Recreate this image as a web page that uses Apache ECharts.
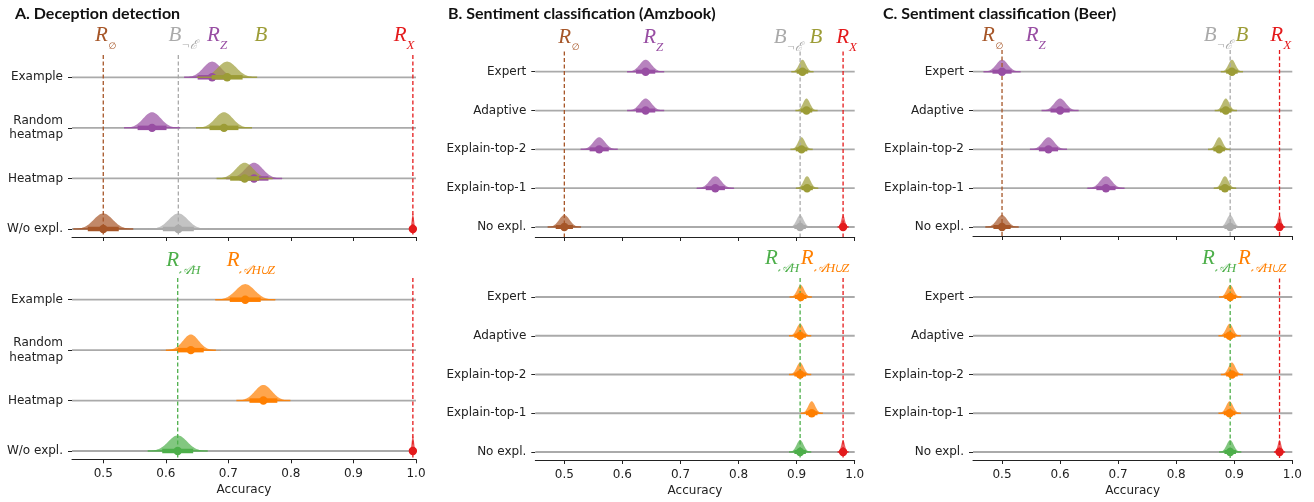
<!DOCTYPE html>
<html><head><meta charset="utf-8">
<script src="https://cdn.jsdelivr.net/npm/echarts@6/dist/echarts.min.js"></script>
<style>html,body{margin:0;padding:0;background:#fff}#c{width:1314px;height:502px}</style>
</head><body><div id="c"></div>
<script>
// ================= DATA =================
const rowsA = ['Example', 'Random\nheatmap', 'Heatmap', 'W/o expl.'];
const rowsBC = ['Expert', 'Adaptive', 'Explain-top-2', 'Explain-top-1', 'No expl.'];
const xTicks = [0.5, 0.6, 0.7, 0.8, 0.9, 1.0];
const titles = ['A. Deception detection', 'B. Sentiment classification (Amzbook)', 'C. Sentiment classification (Beer)'];

// Each entry per row: [mean accuracy, spread (sd)] or null when absent
// Panel A, top
const A1_R0  = [null, null, null, [0.500, 0.015]];
const A1_Bne = [null, null, null, [0.620, 0.015]];
const A1_RZ  = [[0.674, 0.014], [0.578, 0.014], [0.741, 0.014], null];
const A1_B   = [[0.698, 0.015], [0.693, 0.014], [0.726, 0.014], null];
const A1_RX  = [null, null, null, [0.995, 0.0018]];
const A1_labels = [['R0', 0.504], ['Bne', 0.628], ['RZ', 0.682], ['B', 0.752], ['RX', 0.981]];
// Panel A, bottom
const A2_RAH  = [null, null, null, [0.619, 0.015]];
const A2_RAHZ = [[0.727, 0.015], [0.640, 0.0125], [0.756, 0.0135], null];
const A2_RX   = [null, null, null, [0.995, 0.0018]];
const A2_labels = [['RAH', 0.628], ['RAHZ', 0.736]];
// Panel B, top
const B1_R0  = [null, null, null, null, [0.500, 0.009]];
const B1_Bne = [null, null, null, null, [0.906, 0.006]];
const B1_RZ  = [[0.640, 0.010], [0.640, 0.010], [0.560, 0.010], [0.760, 0.010], null];
const B1_B   = [[0.910, 0.006], [0.917, 0.006], [0.9085, 0.006], [0.918, 0.006], null];
const B1_RX  = [null, null, null, null, [0.980, 0.003]];
const B1_labels = [['R0', 0.508], ['RZ', 0.653], ['Bne', 0.886], ['B', 0.933], ['RX', 0.986]];
// Panel B, bottom
const B2_RAH  = [null, null, null, null, [0.906, 0.006]];
const B2_RAHZ = [[0.907, 0.006], [0.906, 0.006], [0.906, 0.006], [0.926, 0.006], null];
const B2_RX   = [null, null, null, null, [0.980, 0.003]];
const B2_labels = [['RAH', 0.875], ['RAHZ', 0.949]];
// Panel C, top
const C1_R0  = [null, null, null, null, [0.500, 0.009]];
const C1_Bne = [null, null, null, null, [0.893, 0.006]];
const C1_RZ  = [[0.500, 0.010], [0.600, 0.010], [0.580, 0.010], [0.679, 0.010], null];
const C1_B   = [[0.896, 0.006], [0.8855, 0.006], [0.874, 0.006], [0.884, 0.006], null];
const C1_RX  = [null, null, null, null, [0.978, 0.003]];
const C1_labels = [['R0', 0.484], ['RZ', 0.558], ['Bne', 0.873], ['B', 0.913], ['RX', 0.980]];
// Panel C, bottom
const C2_RAH  = [null, null, null, null, [0.893, 0.006]];
const C2_RAHZ = [[0.893, 0.006], [0.892, 0.006], [0.896, 0.006], [0.892, 0.006], null];
const C2_RX   = [null, null, null, null, [0.978, 0.003]];
const C2_labels = [['RAH', 0.874], ['RAHZ', 0.948]];

// ================= STYLE =================
const KEYS = ['R0', 'Bne', 'RZ', 'B', 'RX', 'RAH', 'RAHZ'];
const COLORS = { R0: '#a65628', Bne: '#aaaaaa', RZ: '#984ea3', B: '#9c9c36', RX: '#e41a1c', RAH: '#4daf4a', RAHZ: '#ff7f00' };
const MAIN = { R0: 'R', Bne: 'B', RZ: 'R', B: 'B', RX: 'R', RAH: 'R', RAHZ: 'R' };
const SUBS = { R0: '∅', Bne: '¬ℰ', RZ: 'Z', B: '', RX: 'X', RAH: '𝒜H', RAHZ: '𝒜H∪Z' };
const XMIN = 0.45, XMAX = 1.0, PEAK = 0.31;
const SANS = 'DejaVu Sans';

function rgba(hex, a) {
  const n = parseInt(hex.slice(1), 16);
  return `rgba(${(n >> 16) & 255},${(n >> 8) & 255},${n & 255},${a})`;
}

const subplots = [
  { rows: rowsA, dists: { R0: A1_R0, Bne: A1_Bne, RZ: A1_RZ, B: A1_B, RX: A1_RX }, vlines: ['R0', 'Bne', 'RX'], labels: A1_labels,
    grid: { left: 72, right: 898, top: 77.3, bottom: 273 }, xOff: 8, lineTop: -0.44, lineBot: 3.16, labelY: -0.71, bottomAxis: false, thick: 4.5 },
  { rows: rowsA, dists: { RAH: A2_RAH, RAHZ: A2_RAHZ, RX: A2_RX }, vlines: ['RAH', 'RX'], labels: A2_labels,
    grid: { left: 72, right: 898, top: 299.7, bottom: 51 }, xOff: 8.3, lineTop: -0.43, lineBot: 3.16, labelY: -0.67, bottomAxis: true, thick: 4.5 },
  { rows: rowsBC, dists: { R0: B1_R0, Bne: B1_Bne, RZ: B1_RZ, B: B1_B, RX: B1_RX }, vlines: ['R0', 'Bne', 'RX'], labels: B1_labels,
    grid: { left: 535.3, right: 459.3, top: 71.7, bottom: 275 }, xOff: 10, lineTop: -0.52, lineBot: 4.26, labelY: -0.75, bottomAxis: false, thick: 4 },
  { rows: rowsBC, dists: { RAH: B2_RAH, RAHZ: B2_RAHZ, RX: B2_RX }, vlines: ['RAH', 'RX'], labels: B2_labels,
    grid: { left: 535.3, right: 459.3, top: 297, bottom: 50 }, xOff: 8, lineTop: -0.49, lineBot: 4.2, labelY: -0.86, bottomAxis: true, thick: 4 },
  { rows: rowsBC, dists: { R0: C1_R0, Bne: C1_Bne, RZ: C1_RZ, B: C1_B, RX: C1_RX }, vlines: ['R0', 'Bne', 'RX'], labels: C1_labels,
    grid: { left: 973, right: 21.7, top: 71.7, bottom: 275 }, xOff: 9, lineTop: -0.56, lineBot: 4.23, labelY: -0.79, bottomAxis: false, thick: 4 },
  { rows: rowsBC, dists: { RAH: C2_RAH, RAHZ: C2_RAHZ, RX: C2_RX }, vlines: ['RAH', 'RX'], labels: C2_labels,
    grid: { left: 973, right: 21.7, top: 297, bottom: 50 }, xOff: 8, lineTop: -0.48, lineBot: 4.2, labelY: -0.84, bottomAxis: true, thick: 4 },
];

const grids = [], xAxes = [], yAxes = [], series = [];

subplots.forEach((sp, g) => {
  const n = sp.rows.length;
  grids.push(Object.assign({ containLabel: false }, sp.grid));
  xAxes.push({
    gridIndex: g, type: 'value', min: XMIN, max: XMAX, offset: sp.xOff, position: 'bottom',
    axisLine: { show: true, onZero: false, lineStyle: { color: '#222', width: 1 } },
    axisTick: { show: true, length: 4, customValues: xTicks, lineStyle: { color: '#222', width: 1 } },
    axisLabel: { show: sp.bottomAxis, customValues: xTicks, formatter: v => v.toFixed(1), fontFamily: SANS, fontSize: 12, color: '#222', margin: 9 },
    splitLine: { show: false },
    name: sp.bottomAxis ? 'Accuracy' : '', nameLocation: 'middle', nameGap: 25,
    nameTextStyle: { fontFamily: SANS, fontSize: 12, color: '#222' }
  });
  yAxes.push({
    gridIndex: g, type: 'value', min: 0, max: n - 1, interval: 1, inverse: true,
    axisLine: { show: false, onZero: false },
    axisTick: { show: true, length: 4, lineStyle: { color: '#222', width: 1 } },
    axisLabel: { formatter: v => sp.rows[v] || '', fontFamily: SANS, fontSize: 12, color: '#222', margin: 9, lineHeight: 14.5, align: 'right' },
    splitLine: { show: false }
  });

  // flatten distributions: [mean, row, sd, keyIndex]
  const items = [];
  Object.keys(sp.dists).forEach(k => {
    sp.dists[k].forEach((d, r) => { if (d) items.push([d[0], r, d[1], KEYS.indexOf(k)]); });
  });

  // row base lines
  series.push({
    type: 'custom', xAxisIndex: g, yAxisIndex: g, clip: false, silent: true,
    data: sp.rows.map((_, i) => [XMIN, i]),
    renderItem: (params, api) => {
      const i = api.value(1);
      const a = api.coord([XMIN, i]), b = api.coord([XMAX, i]);
      return { type: 'line', shape: { x1: a[0], y1: a[1], x2: b[0], y2: b[1] }, style: { stroke: '#aaaaaa', lineWidth: 1.8 } };
    }
  });

  // densities
  series.push({
    type: 'custom', xAxisIndex: g, yAxisIndex: g, clip: false, silent: true,
    data: items, encode: { x: 0, y: 1 },
    renderItem: (params, api) => {
      const m = api.value(0), r = api.value(1), s = api.value(2), k = KEYS[api.value(3)];
      const pts = [];
      for (let t = -4; t <= 4.0001; t += 0.1) pts.push(api.coord([m + t * s, r - PEAK * Math.exp(-t * t / 2)]));
      return { type: 'polygon', shape: { points: pts }, style: { fill: rgba(COLORS[k], 0.7), stroke: null } };
    }
  });

  // reference dashed lines at the baseline means
  const vl = sp.vlines.map(k => { const d = sp.dists[k].find(v => v); return [d[0], KEYS.indexOf(k)]; });
  series.push({
    type: 'custom', xAxisIndex: g, yAxisIndex: g, clip: false, silent: true,
    data: vl, encode: { x: 0 },
    renderItem: (params, api) => {
      const x = api.value(0), k = KEYS[api.value(1)];
      const a = api.coord([x, sp.lineTop]), b = api.coord([x, sp.lineBot]);
      return { type: 'line', shape: { x1: a[0], y1: a[1], x2: b[0], y2: b[1] }, style: { stroke: COLORS[k], lineWidth: 1.3, lineDash: [4, 2.5] } };
    }
  });

  // intervals + points
  series.push({
    type: 'custom', xAxisIndex: g, yAxisIndex: g, clip: false, silent: true,
    data: items, encode: { x: 0, y: 1 },
    renderItem: (params, api) => {
      const m = api.value(0), r = api.value(1), s = api.value(2), col = COLORS[KEYS[api.value(3)]];
      const a = api.coord([m - 3.2 * s, r]), b = api.coord([m + 3.2 * s, r]);
      const c = api.coord([m - 1.65 * s, r]), d = api.coord([m + 1.65 * s, r]);
      const p = api.coord([m, r]);
      return { type: 'group', children: [
        { type: 'line', shape: { x1: a[0], y1: a[1], x2: b[0], y2: b[1] }, style: { stroke: rgba(col, 0.85), lineWidth: 1.5 } },
        { type: 'line', shape: { x1: c[0], y1: c[1], x2: d[0], y2: d[1] }, style: { stroke: col, lineWidth: sp.thick } },
        { type: 'circle', shape: { cx: p[0], cy: p[1], r: 4.2 }, style: { fill: col } }
      ] };
    }
  });

  // math labels
  series.push({
    type: 'custom', xAxisIndex: g, yAxisIndex: g, clip: false, silent: true,
    data: sp.labels.map(l => [l[1], KEYS.indexOf(l[0])]), encode: { x: 0 },
    renderItem: (params, api) => {
      const x = api.value(0), k = KEYS[api.value(1)];
      const p = api.coord([x, sp.labelY]);
      const col = COLORS[k];
      const subStyle = k === 'R0' ? 'e' : 's';
      const txt = SUBS[k] ? `{m|${MAIN[k]}}{${subStyle}|${SUBS[k]}}` : `{m|${MAIN[k]}}`;
      return { type: 'text', x: p[0], y: p[1], style: {
        text: txt, align: 'center', verticalAlign: 'middle',
        rich: {
          m: { fontFamily: 'Liberation Serif', fontStyle: 'italic', fontSize: 21, lineHeight: 22, padding: [0, 0, 6, 0], verticalAlign: 'bottom', fill: col },
          s: { fontFamily: 'Liberation Serif', fontStyle: 'italic', fontSize: 13, lineHeight: 13, verticalAlign: 'bottom', fill: col },
          e: { fontFamily: 'DejaVu Sans', fontSize: 9, lineHeight: 12, padding: [0, 0, 1, 1], verticalAlign: 'bottom', fill: col }
        }
      } };
    }
  });
});

const chart = echarts.init(document.getElementById('c'));
chart.setOption({
  animation: false,
  backgroundColor: '#ffffff',
  title: titles.map((t, i) => ({ text: t, left: [10, 443, 878][i], top: 1,
    textStyle: { fontFamily: 'Lato', fontWeight: 700, fontSize: 16, color: '#111' } })),
  grid: grids, xAxis: xAxes, yAxis: yAxes, series: series
});
</script>
</body></html>
